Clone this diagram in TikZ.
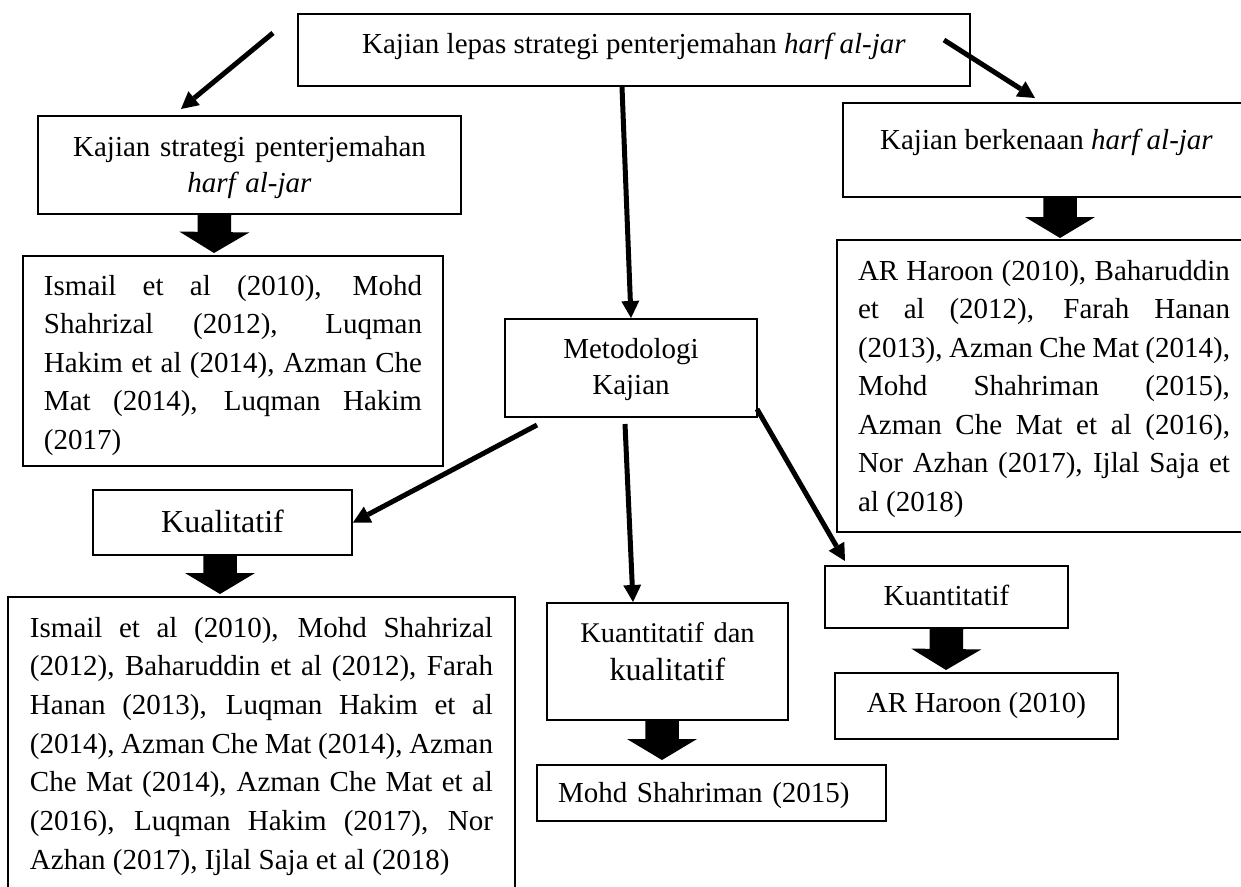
\documentclass[tikz,border=0pt]{standalone}
\usepackage{fontspec}
\setmainfont{Liberation Serif}
\usepackage{tikz}
\usetikzlibrary{calc}
\usetikzlibrary{arrows.meta}

\begin{document}
\begin{tikzpicture}[x=0.4pt, y=-0.4pt,
  main/.style = {draw, line width=0.8pt, inner sep=0pt, anchor=north west, font=\fontsize{11.6}{15.4}\selectfont},
  link/.style = {line width=2pt, -{Triangle[length=6.8pt, width=7.2pt, line width=0pt 0]}},
  bigarrow/.style = {line width=13.4pt, -{Triangle[length=8.4pt, width=28pt, line width=0pt 0]}}]
\useasboundingbox (0,0) rectangle (1241,887);
\clip (0,0) rectangle (1241,887);
\node[main, minimum width=268.8pt, text height=15.6pt, text depth=13.2pt] (1) at (297,13) {Kajian lepas strategi penterjemahan \textit{harf al-jar}};
\node[main, text width=169.2pt, align=center, text height=16pt, text depth=23.2pt, font=\fontsize{11.6}{14.4}\selectfont] (2) at (37,115) {Kajian strategi penterjemahan\\ \textit{harf al-jar}};
\node[main, inner xsep=8.4pt, text width=151.2pt, align=justify, text height=15.6pt, text depth=68.4pt] (3) at (22,255) {Ismail et al (2010), Mohd\linebreak Shahrizal (2012), Luqman\linebreak Hakim et al (2014), Azman Che\linebreak Mat (2014), Luqman Hakim\linebreak (2017)};
\node[main, text width=100.8pt, align=center, text height=15.6pt, text depth=23.6pt, font=\fontsize{11.6}{14.4}\selectfont] (4) at (504,318) {Metodologi\\ Kajian};
\node[main, minimum width=162.8pt, text height=18.4pt, text depth=19.2pt] (5) at (842,102) {Kajian berkenaan \textit{harf al-jar}};
\node[main, inner xsep=8.4pt, text width=148.8pt, align=justify, text height=16pt, text depth=100.8pt] (6) at (836,239) {AR Haroon (2010), Baharuddin\linebreak et al (2012), Farah Hanan\linebreak (2013), Azman Che Mat (2014),\linebreak Mohd Shahriman (2015),\linebreak Azman Che Mat et al (2016),\linebreak Nor Azhan (2017), Ijlal Saja et\linebreak al (2018)};
\node[main, minimum width=103.6pt, text height=16.8pt, text depth=9.2pt, font=\fontsize{12.8}{15.4}\selectfont] (7) at (92,489) {Kualitatif};
\node[main, inner xsep=8.8pt, text width=185.2pt, align=justify, text height=16pt, text depth=105.6pt, font=\fontsize{11.6}{15.48}\selectfont] (8) at (7,596) {Ismail et al (2010), Mohd Shahrizal\linebreak (2012), Baharuddin et al (2012), Farah\linebreak Hanan (2013), Luqman Hakim et al\linebreak (2014), Azman Che Mat (2014), Azman\linebreak Che Mat (2014), Azman Che Mat et al\linebreak (2016), Luqman Hakim (2017), Nor\linebreak Azhan (2017), Ijlal Saja et al (2018)};
\node[main, text width=96.4pt, align=center, text height=15.6pt, text depth=31.2pt, font=\fontsize{11.6}{15.2}\selectfont] (9) at (546,602) {{\fontsize{11.4}{15.2}\selectfont Kuantitatif dan}\\ {\fontsize{12.8}{15.2}\selectfont kualitatif}};
\node[main, inner xsep=8.4pt, text width=122.8pt, align=left, text height=14.8pt, text depth=7.6pt] (10) at (536,764) {Mohd Shahriman (2015)};
\node[main, minimum width=97.2pt, text height=15.6pt, text depth=9.2pt] (11) at (824,565) {Kuantitatif};
\node[main, minimum width=113.2pt, text height=15.6pt, text depth=10.8pt] (12) at (834,672) {AR Haroon (2010)};
\draw[link] ($(1.west)+(-24,-17)$) -- ($(2.north)+(-68.5,-6)$);
\draw[link] ($(1.south)+(-12,0)$) -- (4.north);
\draw[link] ($(1.east)+(-27,-10)$) -- ($(5.north west)+(193,-4)$);
\draw[link] ($(4.south)+(-94,7)$) -- (7.east);
\draw[link] ($(4.south)+(-6,6)$) -- ($(9.north)+(-34.5,0)$);
\draw[link] ($(4.south east)+(-1,-9)$) -- ($(11.north west)+(21,-4)$);
\draw[bigarrow] ($(2.south)+(-35,0)$) -- ($(3.north)+(-19,-2)$);
\draw[bigarrow] ($(5.south)+(13.5,0)$) -- ($(6.north)+(16,-1)$);
\draw[bigarrow] ($(7.south)+(-2.5,0)$) -- ($(8.north)+(-41.5,-2)$);
\draw[bigarrow] ($(9.south)+(-5.5,0)$) -- ($(10.north)+(-49.5,-4)$);
\draw[bigarrow] (11.south) -- ($(12.north)+(-30.5,-2)$);
\end{tikzpicture}
\end{document}
